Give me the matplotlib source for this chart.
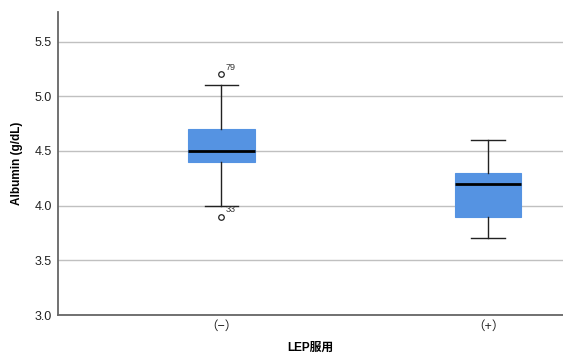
import matplotlib.pyplot as plt

plt.rcParams['font.family'] = ['Liberation Sans', 'Noto Sans CJK JP', 'DejaVu Sans']

# data
groups = ['（−）', '（+）']
q1 = [4.4, 3.9]
med = [4.5, 4.2]
q3 = [4.7, 4.3]
whislo = [4.0, 3.7]
whishi = [5.1, 4.6]
outliers = [[5.2, 3.9], []]
outlier_ids = [['79', '33'], []]

fig = plt.figure(figsize=(5.63, 3.58), dpi=100)
ax = fig.add_axes([57.5 / 563, 43 / 358, 505.5 / 563, 303 / 358])

stats = []
for i in range(len(groups)):
    stats.append(dict(q1=q1[i], med=med[i], q3=q3[i], whislo=whislo[i],
                      whishi=whishi[i], fliers=outliers[i]))

ax.bxp(stats, positions=[1, 2], widths=0.25, patch_artist=True,
       boxprops=dict(facecolor='#5593e2', edgecolor='#5593e2', linewidth=0.8),
       medianprops=dict(color='black', linewidth=2),
       whiskerprops=dict(color='#222222', linewidth=1),
       capprops=dict(color='#222222', linewidth=1),
       capwidths=0.125,
       flierprops=dict(marker='o', markersize=4, markerfacecolor='white',
                       markeredgecolor='#222222', markeredgewidth=0.9))

for i in range(len(groups)):
    for v, lab in zip(outliers[i], outlier_ids[i]):
        ax.annotate(lab, (i + 1, v), xytext=(3, 2), textcoords='offset points',
                    fontsize=6.5, color='#333333', ha='left', va='bottom')

ax.set_xlim(0.385, 2.281)
ax.set_ylim(3.0, 5.77)
ax.set_yticks([3.0, 3.5, 4.0, 4.5, 5.0, 5.5])
ax.set_yticklabels(['3.0', '3.5', '4.0', '4.5', '5.0', '5.5'])
ax.set_xticks([1, 2])
ax.set_xticklabels(groups)
ax.tick_params(length=0, labelsize=9, colors='#222222', pad=4)
ax.yaxis.grid(True, color='#c0c0c0', linewidth=1)
ax.set_axisbelow(True)

for s in ['top', 'right']:
    ax.spines[s].set_visible(False)
ax.spines['left'].set_color('#666666')
ax.spines['bottom'].set_color('#666666')
ax.spines['left'].set_linewidth(1.3)
ax.spines['bottom'].set_linewidth(1.3)

ax.set_ylabel('Albumin (g/dL)', fontsize=8.5, fontweight='bold', labelpad=8)
ax.set_xlabel('LEP服用', fontsize=8.5, fontweight='bold', labelpad=7)

plt.savefig('out.png', dpi=100)
